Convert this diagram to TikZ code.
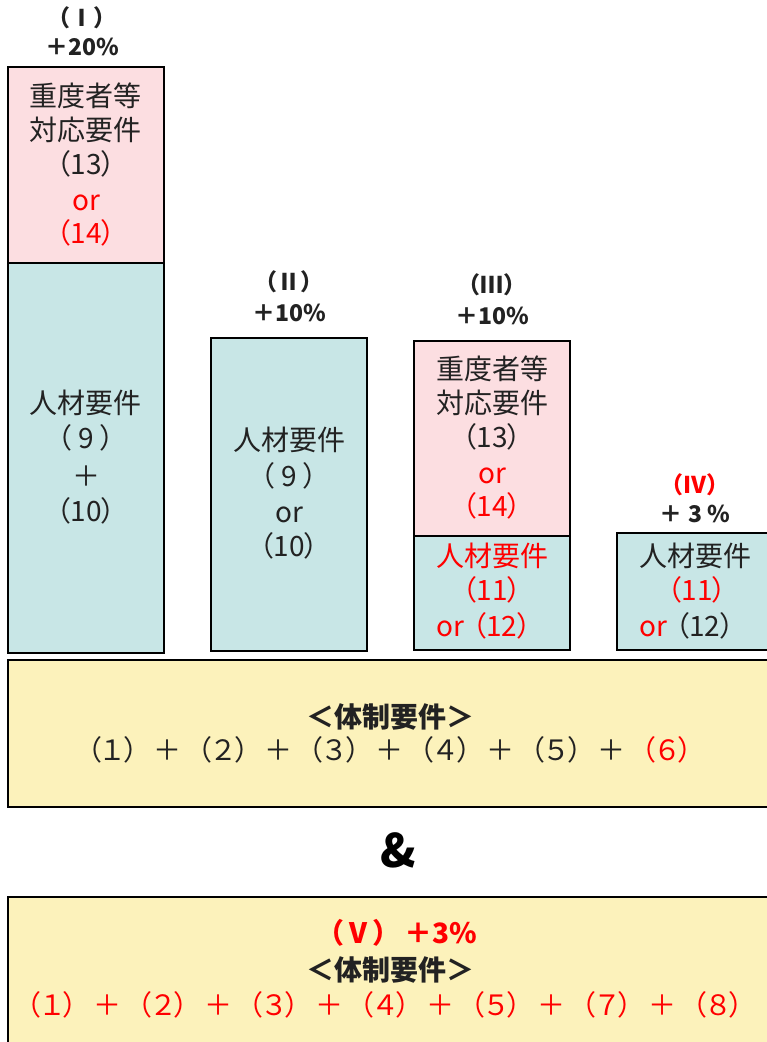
\documentclass[tikz,border=0pt]{standalone}
\usepackage{fontspec}
\setmainfont{Noto Sans CJK JP}
\newfontfamily\pp{Noto Sans CJK JP}[RawFeature={+palt}]
\definecolor{pinkf}{RGB}{252,222,225}
\definecolor{bluef}{RGB}{200,230,230}
\definecolor{yelf}{RGB}{252,242,187}
\definecolor{tx}{RGB}{34,34,34}
\definecolor{rd}{RGB}{255,0,0}
\newcommand\grp[1]{（\kern-3.5pt #1\kern-3.5pt ）}
\newcommand\pl{\hspace{3pt}＋\hspace{3pt}}
\tikzset{
  box/.style={draw=black, line width=2pt, inner sep=0pt},
  t/.style={inner sep=0pt, anchor=center, text=tx, font=\fontsize{28}{32}\pp\selectfont, text height=24pt, text depth=4pt},
  hd/.style={inner sep=0pt, anchor=center, text=tx, font=\fontsize{23}{26}\selectfont\bfseries, text height=20pt, text depth=3.5pt},
  bt/.style={inner sep=0pt, anchor=center, text=tx, font=\fontsize{28}{32}\selectfont\bfseries, text height=24pt, text depth=4pt},
  ln/.style={inner sep=0pt, anchor=center, text=tx, font=\fontsize{28}{32}\selectfont, text height=24pt, text depth=4pt},
}
\begin{document}
\begin{tikzpicture}[x=1pt,y=-1pt]
\useasboundingbox (0,0) rectangle (767,1042);
\clip (0,0) rectangle (767,1042);
% boxes
\node[box, fill=pinkf, minimum width=156pt, minimum height=196pt] (p1) at (86,165) {};
\node[box, fill=bluef, minimum width=156pt, minimum height=390pt] (b1) at (86,458) {};
\node[box, fill=bluef, minimum width=156pt, minimum height=313pt] (b2) at (289,494.5) {};
\node[box, fill=pinkf, minimum width=156pt, minimum height=195pt] (p3) at (492,438.5) {};
\node[box, fill=bluef, minimum width=156pt, minimum height=114pt] (b3) at (492,593) {};
\node[box, fill=bluef, minimum width=156pt, minimum height=117pt] (b4) at (695,591.5) {};
\node[box, fill=yelf, minimum width=792pt, minimum height=147pt] (y1) at (404,733.5) {};
\node[box, fill=yelf, minimum width=792pt, minimum height=170pt] (y2) at (404,982) {};
% headings
\node[hd] (h1a) at (82,18) {（Ⅰ）};
\node[hd] (h1b) at (82,47) {＋20\%};
\node[hd] (h2a) at (289,282) {（Ⅱ）};
\node[hd] (h2b) at (289,313) {＋10\%};
\node[hd] (h3a) at (492,285) {（Ⅲ）};
\node[hd] (h3b) at (492,316) {＋10\%};
\node[hd, text=rd] (h4a) at (695,485) {（Ⅳ）};
\node[hd] (h4b) at (695,514) {＋ 3 \%};
% box I
\node[t] (p1a) at (86,96) {重度者等};
\node[t] (p1b) at (86,130) {対応要件};
\node[t] (p1c) at (86,164) {（13）};
\node[t, text=rd] (p1d) at (86,200) {or};
\node[t, text=rd] (p1e) at (86,233) {（14）};
\node[t] (b1a) at (86,403) {人材要件};
\node[t] (b1b) at (86,438) {（\hspace{7pt}9\hspace{7pt}）};
\node[t] (b1c) at (86,476) {＋};
\node[t] (b1d) at (86,511) {（10）};
% box II
\node[t] (b2a) at (289,440) {人材要件};
\node[t] (b2b) at (289,476) {（\hspace{7pt}9\hspace{7pt}）};
\node[t] (b2c) at (289,512) {or};
\node[t] (b2d) at (289,546) {（10）};
% box III
\node[t] (p3a) at (492,369) {重度者等};
\node[t] (p3b) at (492,403) {対応要件};
\node[t] (p3c) at (492,437) {（13）};
\node[t, text=rd] (p3d) at (492,473) {or};
\node[t, text=rd] (p3e) at (492,506) {（14）};
\node[t, text=rd] (b3a) at (492,556) {人材要件};
\node[t, text=rd] (b3b) at (492,590) {（11）};
\node[t, text=rd] (b3c) at (484,626) {or\hspace{8pt}（12）};
% box IV
\node[t] (b4a) at (695,556) {人材要件};
\node[t, text=rd] (b4b) at (697,590) {（11）};
\node[t] (b4c) at (687,626) {\textcolor{rd}{or}\hspace{8pt}（12）};
% yellow 1
\node[bt] (y1a) at (390,717) {＜体制要件＞};
\node[ln] (y1b) at (390,750) {\grp{１}\pl\grp{２}\pl\grp{３}\pl\grp{４}\pl\grp{５}\pl\textcolor{rd}{\grp{６}}};
% and
\node[inner sep=0pt, text=black, font=\fontsize{46}{50}\selectfont\bfseries] (amp) at (398,850) {\&};
% yellow 2
\node[bt, text=rd] (y2a) at (397,933) {（Ⅴ）\hspace{4pt}＋3\%};
\node[bt] (y2b) at (390,970) {＜体制要件＞};
\node[ln, text=rd] (y2c) at (385,1005) {\grp{１}\pl\grp{２}\pl\grp{３}\pl\grp{４}\pl\grp{５}\pl\grp{７}\pl\grp{８}};
\end{tikzpicture}
\end{document}
